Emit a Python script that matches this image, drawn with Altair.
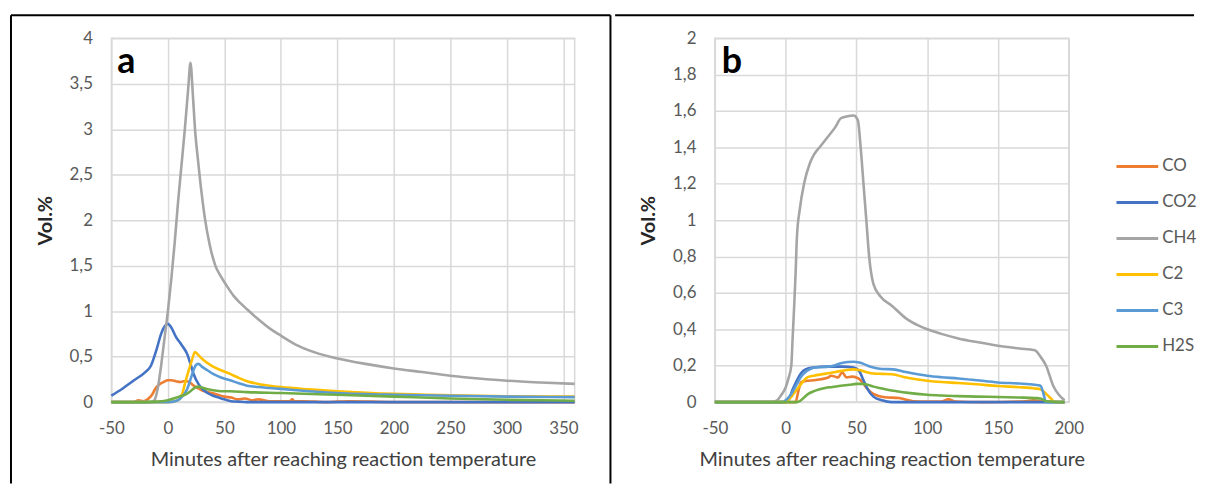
import altair as alt
import pandas as pd

GASES = ["CO", "CO2", "CH4", "C2", "C3", "H2S"]
COLORS = ["#ED7D31", "#4472C4", "#A5A5A5", "#FFC000", "#5B9BD5", "#70AD47"]

X_TITLE = "Minutes after reaching reaction temperature"
Y_TITLE = "Vol.%"

# ---------------- panel a ----------------
a_x_ticks = [-50, 0, 50, 100, 150, 200, 250, 300, 350]
a_y_ticks = [0, 0.5, 1, 1.5, 2, 2.5, 3, 3.5, 4]

a_co_t = [-50, -40, -30, -26, -22, -18, -14, -11, -8, -4, 0, 3, 7, 11, 14, 17, 20, 23, 27, 30, 35, 42, 50, 56, 62, 68, 75, 80, 90, 100, 108, 110, 112, 120, 140, 160, 200, 250, 300, 360]
a_co_v = [0, 0, 0, 0.02, 0.01, 0.03, 0.08, 0.15, 0.19, 0.22, 0.24, 0.24, 0.23, 0.22, 0.23, 0.23, 0.21, 0.18, 0.15, 0.13, 0.11, 0.09, 0.06, 0.05, 0.03, 0.04, 0.02, 0.03, 0.01, 0.01, 0.01, 0.03, 0.01, 0.01, 0, 0.01, 0, 0, 0, 0]

a_co2_t = [-50, -40, -30, -20, -15, -10, -6, -3, 0, 3, 7, 12, 17, 20, 23, 27, 30, 35, 40, 45, 50, 56, 62, 70, 80, 100, 150, 200, 250, 300, 360]
a_co2_v = [0.07, 0.15, 0.24, 0.33, 0.4, 0.58, 0.75, 0.83, 0.86, 0.82, 0.72, 0.63, 0.53, 0.42, 0.3, 0.2, 0.15, 0.1, 0.07, 0.05, 0.03, 0.01, 0.005, 0, 0, 0, 0, 0, 0, 0, 0]

a_ch4_t = [-50, -30, -15, -12, -9, -6, -3, 0, 3, 6, 9, 12, 15, 18, 20, 22, 24, 27, 30, 33, 37, 42, 47, 52, 58, 64, 70, 80, 90, 100, 115, 134, 150, 175, 200, 225, 250, 275, 300, 330, 360]
a_ch4_v = [0, 0, 0, 0.02, 0.15, 0.4, 0.7, 1.0, 1.35, 1.75, 2.2, 2.6, 3.0, 3.45, 3.73, 3.4, 3.0, 2.62, 2.28, 2.0, 1.73, 1.5, 1.38, 1.28, 1.17, 1.09, 1.02, 0.91, 0.81, 0.73, 0.62, 0.53, 0.48, 0.42, 0.37, 0.33, 0.29, 0.26, 0.235, 0.215, 0.2]

a_c2_t = [-50, 0, 5, 10, 13, 15, 18, 21, 24, 26, 30, 35, 40, 47, 55, 62, 70, 80, 90, 100, 125, 150, 200, 250, 300, 360]
a_c2_v = [0, 0, 0.005, 0.03, 0.1, 0.2, 0.33, 0.45, 0.55, 0.53, 0.48, 0.43, 0.39, 0.35, 0.31, 0.27, 0.23, 0.2, 0.18, 0.165, 0.14, 0.12, 0.09, 0.075, 0.065, 0.06]

a_c3_t = [-50, 0, 5, 10, 14, 17, 20, 23, 25, 27, 30, 35, 40, 47, 55, 62, 70, 80, 90, 100, 125, 150, 200, 250, 300, 360]
a_c3_v = [0, 0, 0.005, 0.03, 0.08, 0.14, 0.25, 0.36, 0.41, 0.42, 0.39, 0.35, 0.31, 0.27, 0.24, 0.21, 0.18, 0.165, 0.155, 0.145, 0.12, 0.1, 0.08, 0.07, 0.06, 0.055]

a_h2s_t = [-50, -20, -10, 0, 5, 10, 15, 20, 24, 27, 30, 35, 40, 47, 55, 70, 100, 150, 200, 250, 300, 360]
a_h2s_v = [0, 0, 0.005, 0.02, 0.04, 0.06, 0.08, 0.12, 0.16, 0.17, 0.16, 0.14, 0.13, 0.12, 0.12, 0.11, 0.1, 0.08, 0.06, 0.04, 0.025, 0.015]

# ---------------- panel b ----------------
b_x_ticks = [-50, 0, 50, 100, 150, 200]
b_y_ticks = [0, 0.2, 0.4, 0.6, 0.8, 1, 1.2, 1.4, 1.6, 1.8, 2]

b_co_t = [-50, 0, 7, 9, 11, 15, 20, 25, 30, 32, 35, 37, 40, 43, 47, 50, 53, 56, 60, 65, 70, 80, 90, 100, 110, 115, 120, 140, 170, 175, 180, 197]
b_co_v = [0, 0, 0, 0.06, 0.11, 0.117, 0.12, 0.126, 0.135, 0.145, 0.14, 0.135, 0.163, 0.135, 0.14, 0.135, 0.12, 0.09, 0.055, 0.035, 0.027, 0.022, 0.005, 0.003, 0.003, 0.015, 0.003, 0, 0.005, 0.01, 0.005, 0]

b_co2_t = [-50, 0, 2, 5, 8, 11, 14, 20, 30, 40, 48, 52, 55, 58, 62, 68, 75, 197]
b_co2_v = [0, 0, 0.01, 0.07, 0.12, 0.16, 0.18, 0.19, 0.195, 0.195, 0.19, 0.17, 0.12, 0.07, 0.03, 0.01, 0, 0]

b_ch4_t = [-50, -10, -6, -3, 0, 2, 4, 5, 6, 7, 8, 10, 13, 17, 20, 25, 30, 35, 39, 43, 48, 51, 53, 55, 57, 59, 62, 67, 75, 85, 94, 100, 110, 122, 135, 150, 165, 176, 180, 184, 189, 193, 197]
b_ch4_v = [0, 0, 0.01, 0.04, 0.08, 0.13, 0.2, 0.36, 0.52, 0.7, 0.91, 1.06, 1.2, 1.31, 1.36, 1.41, 1.46, 1.51, 1.56, 1.57, 1.575, 1.55, 1.4, 1.2, 1.0, 0.8, 0.65, 0.58, 0.53, 0.46, 0.42, 0.4, 0.375, 0.35, 0.33, 0.31, 0.295, 0.285, 0.25, 0.2, 0.09, 0.04, 0.01]

b_c2_t = [-50, 0, 1, 3, 6, 9, 12, 15, 20, 25, 30, 35, 40, 45, 48, 52, 55, 58, 62, 68, 75, 85, 100, 110, 122, 135, 150, 165, 176, 180, 184, 188, 190, 197]
b_c2_v = [0, 0, 0.005, 0.02, 0.05, 0.08, 0.11, 0.135, 0.145, 0.152, 0.158, 0.165, 0.172, 0.178, 0.18, 0.176, 0.17, 0.163, 0.157, 0.155, 0.153, 0.135, 0.117, 0.11, 0.105, 0.098, 0.088, 0.082, 0.075, 0.07, 0.045, 0.015, 0, 0]

b_c3_t = [-50, -2, 0, 4, 8, 11, 14, 17, 20, 25, 30, 35, 39, 44, 48, 52, 55, 58, 62, 68, 76, 85, 100, 110, 122, 135, 150, 165, 176, 180, 182, 184, 197]
b_c3_v = [0, 0, 0.01, 0.045, 0.1, 0.14, 0.165, 0.18, 0.19, 0.193, 0.195, 0.203, 0.213, 0.22, 0.222, 0.217, 0.21, 0.2, 0.19, 0.182, 0.18, 0.165, 0.145, 0.137, 0.13, 0.12, 0.108, 0.102, 0.095, 0.09, 0.05, 0.0, 0]

b_h2s_t = [-50, 8, 10, 13, 16, 20, 24, 28, 33, 39, 45, 50, 54, 58, 62, 68, 76, 85, 100, 110, 122, 135, 150, 165, 176, 180, 184, 197]
b_h2s_v = [0, 0, 0.005, 0.025, 0.045, 0.06, 0.07, 0.078, 0.083, 0.09, 0.095, 0.1, 0.1, 0.095, 0.085, 0.075, 0.062, 0.052, 0.04, 0.036, 0.033, 0.03, 0.028, 0.025, 0.022, 0.02, 0.005, 0]


def to_long(series):
    rows = []
    for gas, (ts, vs) in zip(GASES, series):
        for t, v in zip(ts, vs):
            rows.append({"gas": gas, "t": t, "v": v})
    return pd.DataFrame(rows)


df_a = to_long([(a_co_t, a_co_v), (a_co2_t, a_co2_v), (a_ch4_t, a_ch4_v),
                (a_c2_t, a_c2_v), (a_c3_t, a_c3_v), (a_h2s_t, a_h2s_v)])
df_b = to_long([(b_co_t, b_co_v), (b_co2_t, b_co2_v), (b_ch4_t, b_ch4_v),
                (b_c2_t, b_c2_v), (b_c3_t, b_c3_v), (b_h2s_t, b_h2s_v)])
df_leg = pd.DataFrame({"gas": GASES, "rank": list(range(len(GASES)))})
one = pd.DataFrame({"k": [0]})

FONT = "Lato"
color = alt.Color("gas:N", scale=alt.Scale(domain=GASES, range=COLORS), legend=None)


def lines_layer(df, xdom, xticks, ydom, yticks):
    return alt.Chart(df).mark_line(strokeWidth=2.6, interpolate="monotone").encode(
        x=alt.X("t:Q", scale=alt.Scale(domain=xdom, nice=False, zero=False),
                axis=alt.Axis(values=xticks, title=X_TITLE, labelExpr="'' + datum.value",
                              labelFlush=False, labelPadding=19, titlePadding=13)),
        y=alt.Y("v:Q", scale=alt.Scale(domain=ydom, nice=False),
                axis=alt.Axis(values=yticks, title=Y_TITLE,
                              labelExpr="replace('' + datum.value, '.', ',')",
                              labelPadding=19, titlePadding=14,
                              titleFontWeight="bold", titleColor="#262626")),
        color=color,
    )


def rule(x1, x2, y1, y2):
    return alt.Chart(one).mark_rule(color="#000000", strokeWidth=2).encode(
        x=alt.value(x1), x2=alt.value(x2), y=alt.value(y1), y2=alt.value(y2))


def letter(txt, x, y):
    return alt.Chart(one).mark_text(align="left", baseline="alphabetic", fontSize=36,
                                    fontWeight="bold", font=FONT, color="#000000").encode(
        x=alt.value(x), y=alt.value(y), text=alt.value(txt))


WA, WB, H = 466, 356, 366

panel_a = alt.layer(
    lines_layer(df_a, [-50, 360], a_x_ticks, [0, 4], a_y_ticks),
    rule(-101, 502, -23, -23),
    rule(-101, -101, -23, 448),
    rule(502, 502, -23, 448),
    letter("a", 6, 35),
).properties(width=WA, height=H)

leg_y = alt.Y("rank:Q", scale=alt.Scale(domain=[0, 5], range=[129, 310]), axis=None)
leg_rules = alt.Chart(df_leg).mark_rule(strokeWidth=3).encode(
    x=alt.value(404), x2=alt.value(446), y=leg_y, color=color)
leg_text = alt.Chart(df_leg).mark_text(align="left", baseline="middle", fontSize=17,
                                       font=FONT, color="#595959").encode(
    x=alt.value(450), y=leg_y, text="gas:N")

panel_b = alt.layer(
    lines_layer(df_b, [-50, 200], b_x_ticks, [0, 2], b_y_ticks),
    rule(-100.3, 482, -23, -23),
    letter("b", 7, 35),
    leg_rules,
    leg_text,
).resolve_scale(y="independent").properties(width=WB, height=H)

chart = alt.hconcat(panel_a, panel_b, spacing=0).properties(
    padding={"left": 1, "top": 4, "right": 0, "bottom": 0},
    background="white",
).configure_view(stroke="#d9d9d9", strokeWidth=1.5).configure_axis(
    labelFont=FONT, titleFont=FONT, labelFontSize=17, titleFontSize=20,
    labelColor="#595959", titleColor="#404040", titleFontWeight="normal",
    gridColor="#d9d9d9", gridWidth=1.5, domain=False, ticks=False,
)

chart.save("out.html", embed_options={"renderer": "svg", "actions": False})
